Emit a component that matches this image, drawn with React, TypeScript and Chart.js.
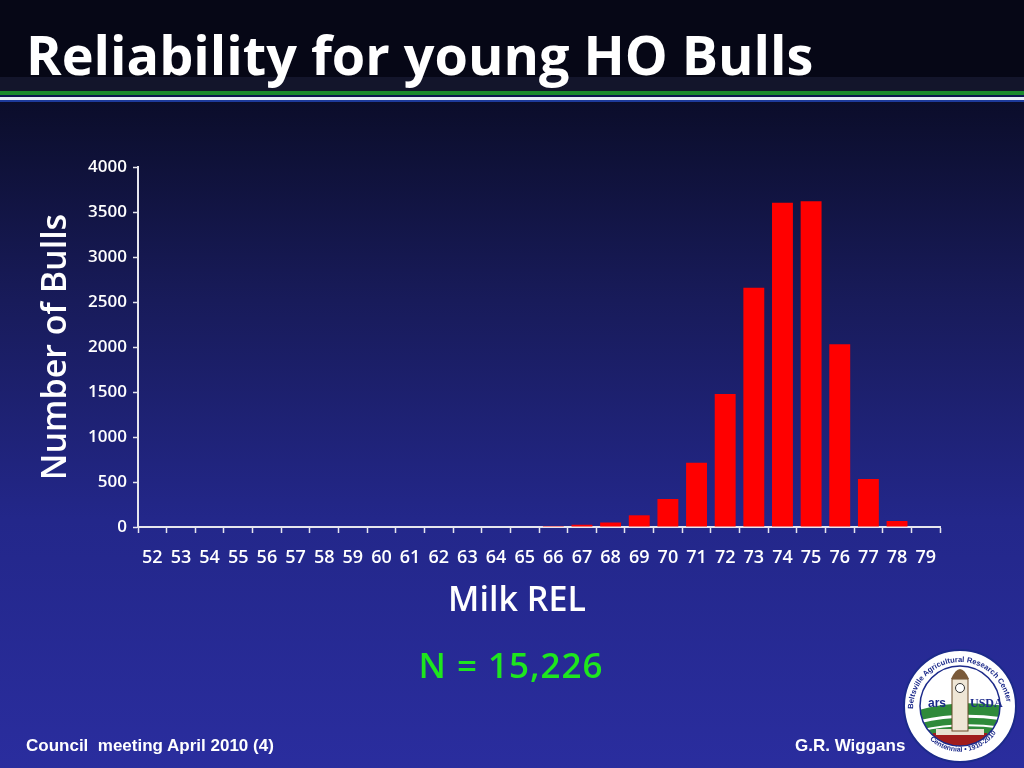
import { useEffect, useRef } from 'react';
import { Chart, registerables } from 'chart.js';

Chart.register(...registerables);

// Milk REL classes and bull counts
const relClasses = [
  '52', '53', '54', '55', '56', '57', '58', '59', '60', '61', '62', '63', '64', '65',
  '66', '67', '68', '69', '70', '71', '72', '73', '74', '75', '76', '77', '78', '79',
];
const bullCounts = [
  0, 0, 0, 0, 0, 0, 0, 0, 0, 0, 0, 0, 0, 0,
  10, 25, 50, 130, 311, 715, 1478, 2659, 3604, 3619, 2030, 533, 67, 0,
];
const yTicks = { min: 0, max: 4000, step: 500 };

const FONT = '"Open Sans", "DejaVu Sans", sans-serif';
const ARIAL = '"Liberation Sans", Arial, sans-serif';
const AXIS = '#e6e6ee';

function Logo() {
  return (
    <svg width="118" height="118" viewBox="0 0 118 118" style={{ position: 'absolute', left: 901, top: 647 }}>
      <defs>
        <path id="topArc" d="M 12 62 A 47 47 0 0 1 106 62" />
        <path id="botArc" d="M 16 70 A 44 44 0 0 0 102 70" />
        <clipPath id="inner">
          <circle cx="59" cy="59" r="40" />
        </clipPath>
      </defs>
      <circle cx="59" cy="59" r="56" fill="#ffffff" stroke="#1c2a8a" strokeWidth="2" />
      <g clipPath="url(#inner)">
        <rect x="0" y="0" width="118" height="118" fill="#ffffff" />
        <path d="M 10 66 Q 50 50 110 60 L 110 118 L 10 118 Z" fill="#2f8a3a" />
        <path d="M 10 77 Q 55 64 110 73" stroke="#ffffff" strokeWidth="3" fill="none" />
        <path d="M 10 86 Q 55 73 110 82" stroke="#ffffff" strokeWidth="2" fill="none" />
        <path d="M 26 118 L 32 86 L 86 86 L 92 118 Z" fill="#a01c1c" />
        <rect x="35" y="82" width="48" height="6" fill="#e8e0d0" />
        <rect x="51" y="32" width="16" height="52" fill="#efe6d6" stroke="#6b4a2a" strokeWidth="1" />
        <path d="M 50 32 Q 59 12 68 32 Z" fill="#7a5a3a" />
        <circle cx="59" cy="41" r="4.5" fill="#ffffff" stroke="#333" strokeWidth="1" />
      </g>
      <circle cx="59" cy="59" r="40" fill="none" stroke="#1c2a8a" strokeWidth="1.5" />
      <text fontFamily={ARIAL} fontSize="7.6" fontWeight="bold" fill="#1c2a8a">
        <textPath href="#topArc">Beltsville Agricultural Research Center</textPath>
      </text>
      <text fontFamily={ARIAL} fontSize="7" fontWeight="bold" fill="#1c2a8a">
        <textPath href="#botArc" startOffset="22%">Centennial • 1910-2010</textPath>
      </text>
      <text x="27" y="60" fontFamily={ARIAL} fontSize="12" fontWeight="bold" fill="#1c2a8a">ars</text>
      <text x="69" y="60" fontFamily="Liberation Serif" fontSize="12" fontWeight="bold" fill="#1c2a8a">USDA</text>
    </svg>
  );
}

export default function App() {
  const chartRef = useRef<HTMLCanvasElement>(null);
  const chartInstance = useRef<Chart | null>(null);

  useEffect(() => {
    if (!chartRef.current) return;
    if (chartInstance.current) chartInstance.current.destroy();

    chartInstance.current = new Chart(chartRef.current, {
      type: 'bar',
      data: {
        labels: relClasses,
        datasets: [{
          data: bullCounts,
          backgroundColor: '#ff0000',
          borderWidth: 0,
          barPercentage: 0.73,
          categoryPercentage: 1,
        }],
      },
      options: {
        responsive: false,
        animation: false,
        layout: { padding: { left: 36, top: 167, right: 84, bottom: 148 } },
        plugins: {
          legend: { display: false },
          tooltip: { enabled: false },
        },
        scales: {
          x: {
            afterFit: (scale) => { scale.height = 93; },
            grid: { drawOnChartArea: false, tickLength: 6, tickColor: AXIS, tickWidth: 1.5 },
            border: { color: AXIS, width: 2 },
            ticks: {
              color: '#ffffff',
              autoSkip: false,
              maxRotation: 0,
              padding: 14,
              font: { family: FONT, size: 18, weight: 600 },
            },
          },
          y: {
            min: yTicks.min,
            max: yTicks.max,
            afterFit: (scale) => { scale.width = 102; },
            grid: { drawOnChartArea: false, tickLength: 5, tickColor: AXIS, tickWidth: 1.5 },
            border: { color: AXIS, width: 2 },
            ticks: {
              stepSize: yTicks.step,
              color: '#ffffff',
              padding: 6,
              font: { family: FONT, size: 17, weight: 600 },
              callback: (v) => String(v),
            },
            title: {
              display: true,
              text: 'Number of Bulls',
              color: '#ffffff',
              font: { family: FONT, size: 34, weight: 600 },
              padding: { top: 0, bottom: 0 },
            },
          },
        },
      },
    });

    return () => {
      if (chartInstance.current) {
        chartInstance.current.destroy();
        chartInstance.current = null;
      }
    };
  }, []);

  return (
    <div style={{
      position: 'fixed', left: 0, top: 0, width: 1024, height: 768, overflow: 'hidden',
      background: 'linear-gradient(180deg, #05061a 0px, #0b0d2a 100px, #181b5a 300px, #23278a 520px, #2a2d9e 768px)',
    }}>
      <div style={{ position: 'absolute', left: 0, top: 0, width: 1024, height: 77, background: '#060716' }} />
      <div style={{ position: 'absolute', left: 0, top: 77, width: 1024, height: 14, background: '#13152b' }} />
      <div style={{ position: 'absolute', left: 0, top: 91, width: 1024, height: 4, background: '#1a8a2e' }} />
      <div style={{ position: 'absolute', left: 0, top: 95, width: 1024, height: 2, background: '#0c1650' }} />
      <div style={{ position: 'absolute', left: 0, top: 97, width: 1024, height: 3, background: '#e8eef8' }} />
      <div style={{ position: 'absolute', left: 0, top: 100, width: 1024, height: 2, background: '#1d3a9a' }} />
      <div style={{
        position: 'absolute', left: 26, top: 27, color: '#ffffff', fontFamily: FONT,
        fontWeight: 700, fontSize: 54, lineHeight: 1, whiteSpace: 'nowrap',
      }}>
        Reliability for young HO Bulls
      </div>
      <canvas ref={chartRef} width={1024} height={768} style={{ position: 'absolute', left: 0, top: 0 }} />
      <div style={{
        position: 'absolute', left: 417, top: 578, width: 200, textAlign: 'center', color: '#ffffff',
        fontFamily: FONT, fontWeight: 600, fontSize: 34, lineHeight: '40px', whiteSpace: 'nowrap',
      }}>
        Milk REL
      </div>
      <div style={{
        position: 'absolute', left: 381, top: 644, width: 260, textAlign: 'center', color: '#1ee61e',
        fontFamily: FONT, fontWeight: 600, fontSize: 35, lineHeight: '42px', letterSpacing: 1, whiteSpace: 'nowrap',
      }}>
        N = 15,226
      </div>
      <div style={{
        position: 'absolute', left: 26, top: 736, color: '#ffffff', fontFamily: ARIAL,
        fontWeight: 700, fontSize: 17, lineHeight: '20px', whiteSpace: 'pre',
      }}>
        {'Council  meeting April 2010 (4)'}
      </div>
      <div style={{
        position: 'absolute', left: 795, top: 736, color: '#ffffff', fontFamily: ARIAL,
        fontWeight: 700, fontSize: 17, lineHeight: '20px', whiteSpace: 'nowrap',
      }}>
        G.R. Wiggans
      </div>
      <Logo />
    </div>
  );
}
